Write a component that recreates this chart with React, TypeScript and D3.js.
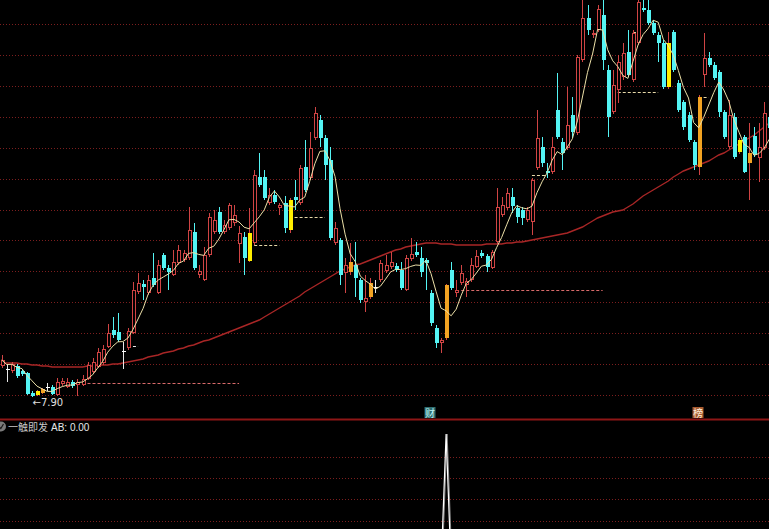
import React from 'react';
import * as d3 from 'd3';

const W = 769;
const H = 529;

// daily OHLC (price, yuan)
const opens = [
  8.21, 8.18, 8.16, 8.21, 8.16, 8.14, 7.94, 7.92, 7.94, 8.00,
  8.00, 7.92, 8.03, 8.00, 8.05, 8.02, 8.02, 8.08, 8.15, 8.20,
  8.24, 8.40, 8.57, 8.55, 8.36, 8.39, 8.54, 8.95, 9.03, 8.94,
  9.09, 8.94, 9.32, 9.19, 9.12, 9.24, 9.27, 9.29, 9.55, 9.12,
  9.07, 9.32, 9.55, 9.75, 9.55, 9.59, 9.64, 9.43, 9.50, 9.26,
  9.44, 10.10, 10.10, 9.84, 9.92, 9.79, 9.84, 9.57, 9.90, 9.84,
  10.20, 10.09, 10.49, 10.67, 10.49, 10.27, 9.44, 9.47, 9.14, 9.15,
  9.22, 9.07, 8.85, 8.90, 9.00, 9.07, 9.16, 9.20, 9.21, 9.17,
  8.97, 9.28, 9.35, 9.29, 9.27, 8.94, 8.59, 8.44, 8.49, 9.17,
  8.94, 9.04, 9.02, 9.07, 9.20, 9.34, 9.31, 9.19, 9.45, 9.72,
  9.79, 9.90, 9.79, 9.77, 9.67, 9.65, 10.19, 10.40, 10.16, 10.15,
  10.77, 10.45, 10.39, 10.72, 10.54, 11.27, 11.69, 11.52, 11.57, 11.72,
  11.17, 10.75, 10.97, 11.10, 11.35, 11.07, 11.44, 11.79, 11.77, 11.64,
  11.52, 11.44, 11.00, 11.55, 11.04, 10.85, 10.72, 10.45, 10.20, 11.12,
  11.29, 11.22, 11.15, 10.75, 10.40, 10.70, 10.35, 10.50, 10.24, 10.51,
  10.29, 10.39, 10.70,
];
const highs = [
  8.32, 8.23, 8.25, 8.23, 8.18, 8.15, 7.96, 7.97, 7.99, 8.04,
  8.02, 8.09, 8.09, 8.09, 8.07, 8.08, 8.12, 8.25, 8.29, 8.39,
  8.42, 8.63, 8.70, 8.74, 8.45, 8.59, 9.05, 9.14, 9.07, 9.12,
  9.34, 9.27, 9.34, 9.22, 9.37, 9.42, 9.37, 9.80, 9.64, 9.22,
  9.40, 9.74, 9.77, 9.80, 9.67, 9.84, 9.82, 9.61, 9.55, 9.79,
  10.17, 10.34, 10.17, 9.99, 9.97, 9.84, 9.91, 9.89, 10.07, 10.22,
  10.47, 10.55, 10.80, 10.72, 10.52, 10.40, 9.65, 9.49, 9.29, 9.44,
  9.45, 9.09, 9.12, 9.09, 9.07, 9.27, 9.32, 9.35, 9.24, 9.25,
  9.32, 9.49, 9.45, 9.40, 9.29, 8.97, 8.62, 8.49, 9.03, 9.25,
  9.07, 9.22, 9.09, 9.29, 9.37, 9.37, 9.33, 9.37, 9.99, 9.90,
  9.99, 9.99, 9.82, 9.80, 9.80, 10.09, 10.77, 10.50, 10.24, 10.50,
  11.14, 10.49, 11.00, 10.90, 11.32, 11.87, 11.82, 11.57, 11.82, 11.90,
  11.22, 11.17, 11.32, 11.44, 11.57, 11.57, 11.92, 11.90, 11.88, 11.67,
  11.55, 11.47, 11.55, 11.57, 11.07, 10.87, 10.75, 10.47, 10.92, 11.54,
  11.35, 11.25, 11.17, 10.77, 10.87, 10.74, 10.49, 10.52, 10.64, 10.60,
  10.64, 10.85, 10.77,
];
const lows = [
  8.19, 8.05, 8.14, 8.09, 8.11, 7.92, 7.90, 7.91, 7.93, 7.96,
  7.92, 7.91, 8.01, 7.99, 7.99, 7.91, 8.01, 8.07, 8.14, 8.19,
  8.22, 8.39, 8.49, 8.45, 8.18, 8.37, 8.53, 8.93, 8.87, 8.92,
  9.00, 8.93, 9.17, 8.97, 9.11, 9.22, 9.25, 9.27, 9.17, 9.09,
  9.06, 9.30, 9.53, 9.53, 9.53, 9.57, 9.61, 9.24, 9.12, 9.25,
  9.42, 10.00, 9.87, 9.82, 9.83, 9.72, 9.54, 9.54, 9.77, 9.82,
  9.95, 10.07, 10.47, 10.40, 10.07, 9.47, 9.42, 9.02, 8.94, 9.12,
  8.90, 8.84, 8.75, 8.88, 8.94, 9.05, 9.14, 9.18, 9.15, 8.97,
  8.96, 9.26, 9.30, 9.10, 8.97, 8.61, 8.39, 8.34, 8.47, 8.97,
  8.90, 9.02, 8.90, 9.05, 9.19, 9.29, 9.15, 9.18, 9.43, 9.70,
  9.77, 9.74, 9.64, 9.62, 9.65, 9.52, 10.17, 10.20, 10.09, 10.13,
  10.48, 10.17, 10.37, 10.49, 10.52, 11.25, 11.52, 11.49, 11.55, 11.17,
  10.50, 10.73, 10.84, 11.07, 11.10, 11.05, 11.42, 11.75, 11.62, 11.52,
  11.25, 10.98, 10.98, 11.15, 10.75, 10.57, 10.45, 10.17, 10.12, 11.00,
  11.20, 11.07, 10.70, 10.48, 10.38, 10.28, 10.33, 10.14, 9.87, 10.30,
  10.05, 10.37, 10.57,
];
const closes = [
  8.27, 8.18, 8.23, 8.11, 8.13, 7.93, 7.91, 7.96, 7.98, 8.00,
  7.93, 8.05, 8.06, 8.05, 8.01, 8.05, 8.08, 8.22, 8.25, 8.35,
  8.38, 8.54, 8.52, 8.47, 8.36, 8.56, 8.97, 9.04, 9.00, 9.07,
  9.02, 9.22, 9.19, 9.15, 9.25, 9.37, 9.34, 9.57, 9.19, 9.16,
  9.32, 9.70, 9.67, 9.55, 9.62, 9.82, 9.72, 9.54, 9.29, 9.54,
  10.12, 10.02, 9.89, 9.92, 9.85, 9.82, 9.59, 9.87, 9.87, 10.19,
  9.97, 10.39, 10.74, 10.49, 10.22, 9.49, 9.59, 9.12, 9.22, 9.25,
  9.09, 8.87, 8.89, 9.04, 9.00, 9.24, 9.22, 9.25, 9.17, 8.99,
  9.29, 9.33, 9.32, 9.15, 9.24, 8.64, 8.44, 8.47, 9.02, 8.99,
  8.97, 9.14, 9.06, 9.22, 9.31, 9.31, 9.20, 9.35, 9.80, 9.82,
  9.94, 9.81, 9.70, 9.69, 9.77, 10.07, 10.49, 10.24, 10.14, 10.40,
  10.50, 10.34, 10.62, 10.55, 11.30, 11.69, 11.57, 11.54, 11.78, 11.27,
  10.70, 11.02, 11.25, 11.34, 11.12, 11.54, 11.85, 11.77, 11.64, 11.54,
  11.44, 11.00, 11.44, 11.17, 10.77, 10.60, 10.47, 10.22, 10.90, 11.29,
  11.22, 11.09, 10.75, 10.50, 10.72, 10.30, 10.47, 10.15, 10.34, 10.32,
  10.40, 10.74, 10.59,
];
// long moving average
const maLong = [
  8.24, 8.24, 8.24, 8.24, 8.23, 8.23, 8.22, 8.22, 8.21, 8.21,
  8.20, 8.20, 8.20, 8.20, 8.20, 8.20, 8.20, 8.21, 8.21, 8.22,
  8.22, 8.22, 8.23, 8.23, 8.24, 8.25, 8.26, 8.27, 8.28, 8.30,
  8.31, 8.32, 8.34, 8.35, 8.36, 8.38, 8.39, 8.41, 8.42, 8.44,
  8.46, 8.47, 8.49, 8.51, 8.53, 8.55, 8.57, 8.59, 8.61, 8.63,
  8.65, 8.67, 8.70, 8.73, 8.76, 8.79, 8.82, 8.85, 8.88, 8.91,
  8.95, 8.98, 9.01, 9.04, 9.07, 9.10, 9.13, 9.16, 9.18, 9.20,
  9.22, 9.23, 9.25, 9.27, 9.29, 9.31, 9.33, 9.35, 9.37, 9.38,
  9.40, 9.41, 9.42, 9.43, 9.44, 9.44, 9.44, 9.43, 9.43, 9.43,
  9.42, 9.42, 9.42, 9.42, 9.42, 9.42, 9.43, 9.43, 9.43, 9.43,
  9.44, 9.44, 9.45, 9.45, 9.46, 9.47, 9.48, 9.49, 9.50, 9.51,
  9.52, 9.53, 9.54, 9.56, 9.58, 9.60, 9.63, 9.66, 9.69, 9.71,
  9.73, 9.75, 9.76, 9.77, 9.80, 9.83, 9.87, 9.91, 9.94, 9.97,
  10.00, 10.03, 10.06, 10.10, 10.13, 10.16, 10.18, 10.20, 10.22, 10.24,
  10.26, 10.29, 10.32, 10.34, 10.37, 10.40, 10.43, 10.46, 10.49, 10.52,
  10.56, 10.60, 10.64,
];
// signal-coloured bars
const yellowDays = [7, 49, 57, 132, 146];
const orangeDays = [8, 69, 73, 88, 138, 148];
// horizontal level markers
const levelStart = [16, 25, 50, 58, 91, 105, 121, 125, 138];
const levelEnd = [47, 27, 55, 64, 119, 108, 130, 127, 140];
const levelPrice = [8.04, 8.41, 9.42, 9.70, 8.97, 10.12, 10.95, 11.55, 10.90];
const levelKind = ['pink', 'white', 'beige', 'beige', 'pink', 'beige', 'beige', 'beige', 'beige'];
// event tags
const eventDays = [85, 138];
const eventLabels = ['财', '榜'];
// lower indicator "一触即发" AB signals
const abSignalDays = [88];
const abSignalValues = [100];

const RED = '#d04444';
const CYAN = '#54f4f4';
const YELLOW = '#ffee00';
const ORANGE = '#f2a322';
const GRID = '#7c1e1e';

export default function App() {
  const N = closes.length;
  const x = d3.scaleLinear().domain([0, N - 1]).range([1.7, 1.7 + 5.05 * (N - 1)]);
  const y = d3.scaleLinear().domain([7.69, 11.87]).range([418, 0]);
  const yAB = d3.scaleLinear().domain([0, 100]).range([568, 434]);

  const ma5 = closes.map((_, i) => d3.mean(closes.slice(Math.max(0, i - 4), i + 1)) as number);
  const ab = closes.map((_, i) => {
    const k = abSignalDays.indexOf(i);
    return k >= 0 ? abSignalValues[k] : 0;
  });

  const lineGen = d3
    .line<number>()
    .x((_, i) => x(i))
    .y((v) => y(v));
  const abLine = d3
    .line<number>()
    .x((_, i) => x(i))
    .y((v) => yAB(v));

  const mainGrid = d3.range(13).map((k) => Math.round(24.2 + 30.9 * k) + 0.5);
  const subGrid = d3.range(4).map((k) => Math.round(456.7 + 21.3 * k) + 0.5);

  const minIdx = d3.minIndex(lows);
  const snap = (v: number) => Math.round(v) + 0.5;

  const candles = closes.map((c, i) => {
    const o = opens[i];
    const h = highs[i];
    const l = lows[i];
    const r = Math.round(x(i));
    const wx = r + 0.5;
    const yo = y(o);
    const yc = y(c);
    const yh = y(h);
    const yl = y(l);
    const top = Math.round(Math.min(yo, yc));
    const bot = Math.round(Math.max(yo, yc));
    const isY = yellowDays.includes(i);
    const isO = orangeDays.includes(i);
    if (c === o) {
      return (
        <g key={i}>
          <line x1={wx} x2={wx} y1={yh} y2={yl} stroke="#e8e8e8" strokeWidth={1} />
          <line x1={r - 1} x2={r + 3} y1={snap(yo)} y2={snap(yo)} stroke="#ffffff" strokeWidth={1} />
        </g>
      );
    }
    if (isY || isO) {
      const fill = isY ? YELLOW : ORANGE;
      const wc = c > o ? RED : CYAN;
      return (
        <g key={i}>
          <line x1={wx} x2={wx} y1={yh} y2={yl} stroke={wc} strokeWidth={1} />
          <rect x={r - 1} y={top} width={4} height={Math.max(1, bot - top)} fill={fill} />
        </g>
      );
    }
    if (c > o) {
      return (
        <g key={i}>
          <line x1={wx} x2={wx} y1={yh} y2={top} stroke={RED} strokeWidth={1} />
          <line x1={wx} x2={wx} y1={bot} y2={yl} stroke={RED} strokeWidth={1} />
          <rect
            x={r - 0.5}
            y={top + 0.5}
            width={3}
            height={Math.max(1, bot - top - 1)}
            fill="#000"
            stroke={RED}
            strokeWidth={1}
          />
        </g>
      );
    }
    return (
      <g key={i}>
        <line x1={wx} x2={wx} y1={yh} y2={yl} stroke={CYAN} strokeWidth={1} />
        <rect x={r - 1} y={top} width={4} height={Math.max(1, bot - top)} fill={CYAN} />
      </g>
    );
  });

  const levelColor: Record<string, string> = { pink: '#d86a6a', white: '#e8e8e8', beige: '#e6d8a8' };

  return (
    <svg
      width={W}
      height={H}
      style={{ position: 'fixed', left: 0, top: 0, background: '#000', display: 'block' }}
    >
      <defs>
        <clipPath id="mainClip">
          <rect x={0} y={0} width={W} height={418} />
        </clipPath>
        <clipPath id="subClip">
          <rect x={0} y={420} width={W} height={H - 420} />
        </clipPath>
      </defs>
      <rect x={0} y={0} width={W} height={H} fill="#000" />

      {mainGrid.map((gy, k) => (
        <line key={'g' + k} x1={0} x2={W} y1={gy} y2={gy} stroke={GRID} strokeWidth={1} strokeDasharray="1,2" />
      ))}
      {subGrid.map((gy, k) => (
        <line key={'s' + k} x1={0} x2={W} y1={gy} y2={gy} stroke={GRID} strokeWidth={1} strokeDasharray="1,2" />
      ))}

      <g clipPath="url(#mainClip)">
        <path d={lineGen(maLong) || ''} fill="none" stroke="#a82626" strokeWidth={1.4} />
        {levelPrice.map((p, k) => (
          <line
            key={'lv' + k}
            x1={x(levelStart[k])}
            x2={x(levelEnd[k])}
            y1={snap(y(p))}
            y2={snap(y(p))}
            stroke={levelColor[levelKind[k]]}
            strokeWidth={1}
            strokeDasharray="3,2"
          />
        ))}
        {candles}
        <path d={lineGen(ma5) || ''} fill="none" stroke="#ece0a8" strokeWidth={1} />
        <text
          x={x(minIdx) + 0.5}
          y={y(lows[minIdx]) + 9}
          fill="#e0e0e0"
          fontSize={10}
          fontFamily="DejaVu Sans, Liberation Sans, sans-serif"
        >
          {'←' + lows[minIdx].toFixed(2)}
        </text>
      </g>

      {eventDays.map((d, k) => {
        const cx = Math.round(x(d)) - 1;
        const isFin = eventLabels[k] === '财';
        return (
          <g key={'ev' + k}>
            <rect x={cx - 5.5} y={407} width={11} height={11} fill={isFin ? '#2f6e70' : '#a65a30'} />
            <text
              x={cx}
              y={416.5}
              textAnchor="middle"
              fontSize={10}
              fill={isFin ? '#bff4f4' : '#fff0dc'}
              fontFamily="Noto Sans CJK SC, sans-serif"
            >
              {eventLabels[k]}
            </text>
          </g>
        );
      })}

      <line x1={0} x2={W} y1={419.5} y2={419.5} stroke="#8e1616" strokeWidth={2} />

      <g clipPath="url(#subClip)">
        <path d={abLine(ab) || ''} fill="none" stroke="#8a8a8a" strokeWidth={1} transform="translate(1,0)" />
        <path d={abLine(ab) || ''} fill="none" stroke="#ffffff" strokeWidth={1.2} />
      </g>

      <circle cx={1} cy={426.5} r={5} fill="#7a7a7a" />
      <path d="M-1,426.5 L0.8,428.5 L3.5,424" fill="none" stroke="#1a1a1a" strokeWidth={1.2} />
      <text x={8} y={430.5} fontSize={10} fill="#c8c8c8" fontFamily="Noto Sans CJK SC, sans-serif">
        一触即发
      </text>
      <text x={51} y={430.5} fontSize={10} fill="#e8e8e8" fontFamily="Liberation Sans, Arial, sans-serif">
        {'AB: ' + ab[N - 1].toFixed(2)}
      </text>
    </svg>
  );
}
